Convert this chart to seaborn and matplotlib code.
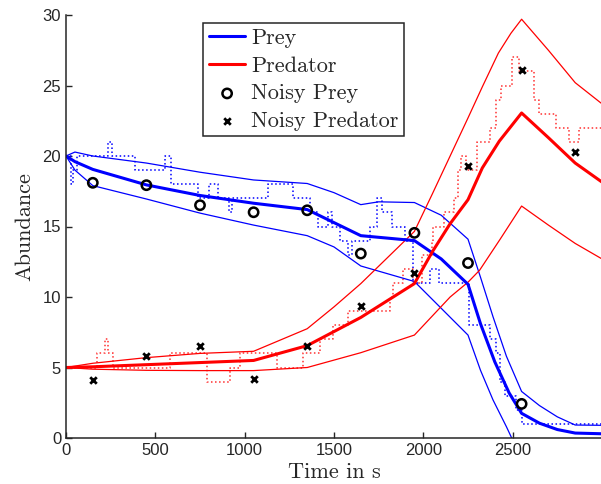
import numpy as np
import pandas as pd
import seaborn as sns
import matplotlib
matplotlib.use("Agg")
import matplotlib.pyplot as plt

# filter mean and +/- bands
prey_mean_t = [0, 50, 150, 450, 750, 1050, 1350, 1650, 1950, 2100, 2250, 2320, 2400, 2480, 2550, 2650, 2750, 2850, 3000]
prey_mean = [20.0, 19.6, 19.05, 17.95, 17.2, 16.65, 16.2, 14.35, 14.0, 12.7, 10.9, 8.1, 5.4, 3.2, 1.75, 1.05, 0.6, 0.35, 0.3]

prey_up_t = [0, 50, 150, 450, 750, 1050, 1350, 1500, 1650, 1750, 1950, 2100, 2250, 2320, 2390, 2465, 2550, 2650, 2750, 2850, 3000]
prey_up = [20.0, 20.28, 20.0, 19.5, 18.85, 18.3, 18.05, 17.4, 16.55, 16.75, 16.7, 15.8, 14.1, 11.4, 8.6, 5.8, 3.3, 2.3, 1.5, 0.92, 0.9]

prey_lo_t = [0, 50, 150, 450, 750, 1050, 1350, 1500, 1650, 1950, 2250, 2320, 2390, 2465, 2550, 2700]
prey_lo = [20.0, 19.0, 17.9, 16.95, 15.95, 15.1, 14.35, 13.55, 12.2, 11.1, 7.3, 4.8, 2.7, 0.8, -1.5, -4.0]

pred_mean_t = [0, 150, 450, 750, 1050, 1350, 1650, 1950, 2050, 2150, 2250, 2330, 2425, 2550, 2700, 2850, 3000]
pred_mean = [5.0, 5.05, 5.2, 5.35, 5.5, 6.55, 8.55, 10.95, 13.2, 15.2, 16.9, 19.15, 21.05, 23.05, 21.3, 19.5, 18.15]

pred_up_t = [0, 150, 450, 750, 1050, 1350, 1500, 1650, 1800, 1950, 2050, 2150, 2250, 2330, 2420, 2490, 2550, 2700, 2850, 3000]
pred_up = [5.0, 5.3, 5.7, 6.0, 6.15, 7.75, 9.3, 10.95, 12.8, 14.65, 17.3, 20.0, 22.7, 24.9, 27.3, 28.7, 29.7, 27.5, 25.2, 23.7]

pred_lo_t = [0, 150, 450, 750, 1050, 1350, 1650, 1950, 2150, 2250, 2315, 2430, 2550, 2700, 2850, 3000]
pred_lo = [5.0, 4.88, 4.8, 4.78, 4.78, 5.0, 6.05, 7.3, 10.0, 11.05, 11.9, 14.1, 16.45, 15.1, 13.8, 12.7]

# noisy observations
obs_t = [150, 450, 750, 1050, 1350, 1650, 1950, 2250, 2550, 2850]
noisy_prey = [18.1, 17.93, 16.51, 16.01, 16.15, 13.08, 14.55, 12.41, 2.42]
noisy_pred = [4.12, 5.85, 6.49, 4.17, 6.54, 9.33, 11.7, 19.28, 26.08, 20.3]

# stochastic (true) trajectories, step changes
prey_ssa_t = [0, 30, 40, 60, 237, 260, 387, 555, 590, 740, 800, 850, 913, 930, 1130, 1270, 1365,
              1410, 1465, 1490, 1532, 1580, 1600, 1700, 1740, 1767, 1823, 1895, 1940, 2035, 2090,
              2255, 2375, 2405, 2430, 2455, 2520, 2555, 3000]
prey_ssa = [20, 18, 19, 20, 21, 20, 19, 20, 18, 17, 18, 17, 16, 17, 18, 17, 16,
            15, 16, 15, 14, 13, 14, 15, 17, 16, 15, 14, 11, 12, 11,
            8, 7, 6, 4, 3, 2, 1, 1]

pred_ssa_t = [0, 174, 220, 235, 265, 583, 790, 918, 975, 1180, 1326, 1420, 1495, 1580, 1813, 1830,
              1886, 1940, 1990, 2050, 2055, 2115, 2170, 2193, 2210, 2240, 2300, 2375, 2405, 2435,
              2497, 2535, 2620, 2650, 2745, 2815, 2870, 3000]
pred_ssa = [5, 6, 7, 6, 5, 6, 4, 5, 6, 5, 6, 7, 8, 9, 10, 11,
            12, 11, 13, 14, 15, 16, 17, 19, 20, 19, 21, 22, 24, 25,
            27, 26, 24, 23, 22, 21, 22, 22]

sns.set_style("ticks")
plt.rcParams["font.family"] = ["Liberation Sans", "DejaVu Sans"]
plt.rcParams["xtick.direction"] = "in"
plt.rcParams["ytick.direction"] = "in"

dark = "#262626"
fig = plt.figure(figsize=(6.01, 4.84), dpi=100)
ax = fig.add_axes([66 / 601, 46 / 484, 536 / 601, 423 / 484])

# dotted stochastic paths
sns.lineplot(x=prey_ssa_t, y=prey_ssa, ax=ax, color="blue", lw=1.1, ls=":",
             drawstyle="steps-post", estimator=None, sort=False)
sns.lineplot(x=pred_ssa_t, y=pred_ssa, ax=ax, color="#ff3030", lw=1.1, ls=":",
             drawstyle="steps-post", estimator=None, sort=False)

# bands
for t, v, c in [(prey_up_t, prey_up, "blue"), (prey_lo_t, prey_lo, "blue"),
                (pred_up_t, pred_up, "red"), (pred_lo_t, pred_lo, "red")]:
    sns.lineplot(x=t, y=v, ax=ax, color=c, lw=0.9, estimator=None, sort=False)

# means
sns.lineplot(x=prey_mean_t, y=prey_mean, ax=ax, color="blue", lw=2.2,
             estimator=None, sort=False, label="Prey")
sns.lineplot(x=pred_mean_t, y=pred_mean, ax=ax, color="red", lw=2.2,
             estimator=None, sort=False, label="Predator")

# observations
sns.scatterplot(x=obs_t[:len(noisy_prey)], y=noisy_prey, ax=ax, marker="o", s=45,
                facecolor="none", edgecolor="black", linewidth=1.8, label="Noisy Prey", zorder=5)
sns.scatterplot(x=obs_t, y=noisy_pred, ax=ax, marker="x", s=22, color="black",
                linewidth=2.0, label="Noisy Predator", zorder=5)

ax.set_xlim(0, 3000)
ax.set_ylim(0, 30)
ax.set_xticks([0, 500, 1000, 1500, 2000, 2500])
ax.set_yticks([0, 5, 10, 15, 20, 25, 30])
ax.tick_params(labelsize=12, colors=dark, length=4, width=1)
for s in ["left", "bottom"]:
    ax.spines[s].set_color(dark)
    ax.spines[s].set_linewidth(1.1)
sns.despine(ax=ax)

ax.set_xlabel("Time in s", fontsize=16, family="cmr10", color=dark, labelpad=3)
ax.set_ylabel("Abundance", fontsize=16, family="cmr10", color=dark, labelpad=6)

leg = ax.legend(loc="upper left", bbox_to_anchor=(0.256, 0.981), borderaxespad=0,
                fancybox=False, framealpha=1, edgecolor=dark,
                prop={"family": "cmr10", "size": 16}, handlelength=1.65,
                labelspacing=0.36, borderpad=0.25, handletextpad=0.25)
leg.get_frame().set_linewidth(1.1)

fig.savefig("out.png", dpi=100)
